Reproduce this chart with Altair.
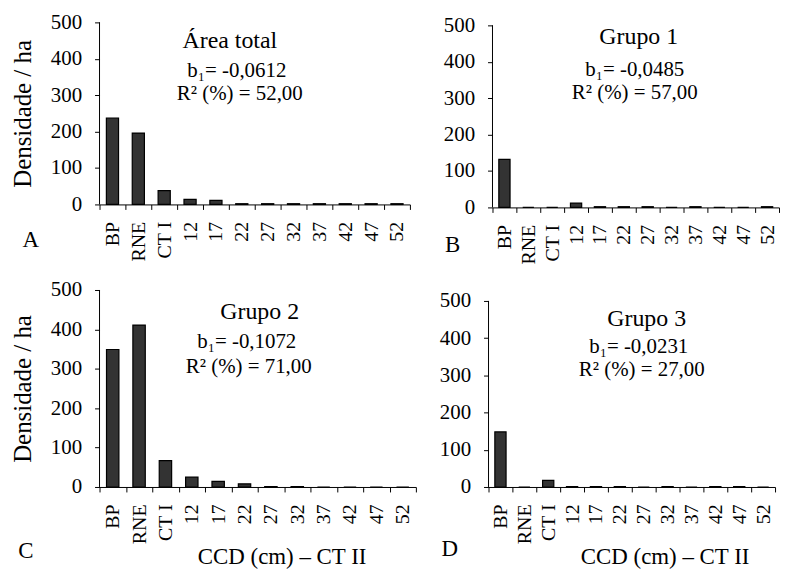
import altair as alt
import pandas as pd

categories = ["BP", "RNE", "CT I", "12", "17", "22", "27", "32", "37", "42", "47", "52"]
area_total = [237, 196, 38, 14, 11, 2, 2, 2, 2, 2, 2, 2]
grupo1 = [132, 0, 0, 12, 2, 2, 2, 0, 2, 0, 0, 2]
grupo2 = [349, 411, 67, 25, 14, 8, 1, 1, 0, 0, 0, 0]
grupo3 = [148, 0, 18, 1, 1, 1, 0, 1, 0, 1, 1, 0]
series = [area_total, grupo1, grupo2, grupo3]

panel_titles = ["Área total", "Grupo 1", "Grupo 2", "Grupo 3"]
b1_texts = ["b\u2081= -0,0612", "b\u2081= -0,0485", "b\u2081= -0,1072", "b\u2081= -0,0231"]
r2_texts = ["R² (%) = 52,00", "R² (%) = 57,00", "R² (%) = 71,00", "R² (%) = 27,00"]
letters = ["A", "B", "C", "D"]
y_ticks = [0, 100, 200, 300, 400, 500]
y_max = 500
y_title = "Densidade / ha"
x_title = "CCD (cm) – CT II"

FONT = "Liberation Serif"

# per panel: plot width, plot height, scale top value (so that 500 sits lower when > 500),
# annotation positions (pixels inside the plot), letter position, x-title x position
layout = [
    dict(w=312, h=183, top=500, yt=True, xt=False, tp=(131, 19), bp=(138, 49), rp=(141, 72), lp=(-69, 219), xtx=0),
    dict(w=288, h=186, top=508.2, yt=False, xt=False, tp=(147, 15), bp=(143, 48), rp=(143, 71), lp=(-40, 224), xtx=0),
    dict(w=318, h=198, top=500, yt=True, xt=True, tp=(161, 22), bp=(148, 52), rp=(150, 77), lp=(-74, 262), xtx=183),
    dict(w=288, h=198, top=529.4, yt=False, xt=True, tp=(159, 29), bp=(151, 57), rp=(154, 80), lp=(-39, 260), xtx=177),
]


def text_layer(txt, pos, size):
    return alt.Chart(pd.DataFrame({"t": [txt]})).mark_text(
        font=FONT, fontSize=size, color="black", align="center", baseline="middle"
    ).encode(x=alt.value(pos[0]), y=alt.value(pos[1]), text="t:N")


def panel(i):
    L = layout[i]
    df = pd.DataFrame({"cat": categories, "val": series[i]})
    xaxis_kw = dict(labelAngle=270, tickBand="extent", labelPadding=12, labelFontSize=20,
                    tickSize=5, labelFont=FONT)
    if L["xt"]:
        xaxis = alt.Axis(title=x_title, titleFontSize=23, titlePadding=2, titleX=L["xtx"],
                         titleAlign="center", titleFont=FONT, titleFontWeight="normal", **xaxis_kw)
    else:
        xaxis = alt.Axis(title=None, **xaxis_kw)
    yaxis_kw = dict(values=y_ticks, labelPadding=13, labelFontSize=21, tickSize=5, labelFont=FONT,
                    domain=False, labelOverlap=False)
    if L["yt"]:
        yaxis = alt.Axis(title=y_title, titleFontSize=25, titlePadding=15, titleFont=FONT,
                         titleFontWeight="normal", **yaxis_kw)
    else:
        yaxis = alt.Axis(title=None, **yaxis_kw)
    yscale = alt.Scale(domain=[0, L["top"]], nice=False)
    bars = alt.Chart(df).mark_bar(
        width=alt.RelativeBandSize(0.47), fill="#333333", stroke="black", strokeWidth=1.2
    ).encode(
        x=alt.X("cat:N", sort=categories, scale=alt.Scale(paddingInner=0, paddingOuter=0), axis=xaxis),
        y=alt.Y("val:Q", scale=yscale, axis=yaxis),
    )
    axis_line = alt.Chart(pd.DataFrame({"y0": [0], "y1": [y_max]})).mark_rule(
        color="black", strokeWidth=1
    ).encode(x=alt.value(0), y=alt.Y("y0:Q", scale=yscale, axis=yaxis), y2="y1:Q")
    layers = [
        bars,
        axis_line,
        text_layer(panel_titles[i], L["tp"], 24),
        text_layer(b1_texts[i], L["bp"], 21),
        text_layer(r2_texts[i], L["rp"], 21),
        text_layer(letters[i], L["lp"], 23),
    ]
    return alt.layer(*layers).properties(width=L["w"], height=L["h"])


top = alt.hconcat(panel(0), panel(1), spacing=32)
bottom = alt.hconcat(panel(2), panel(3), spacing=22)
chart = alt.vconcat(top, bottom, spacing=15).properties(
    padding={"left": 2, "top": 2, "right": 2, "bottom": 1}
).configure(font=FONT).configure_view(stroke=None).configure_axis(
    domainColor="black", tickColor="black", labelColor="black", titleColor="black",
    grid=False, domainWidth=1, tickWidth=1
)

chart.save("out.html", embed_options={"renderer": "svg", "actions": False})
